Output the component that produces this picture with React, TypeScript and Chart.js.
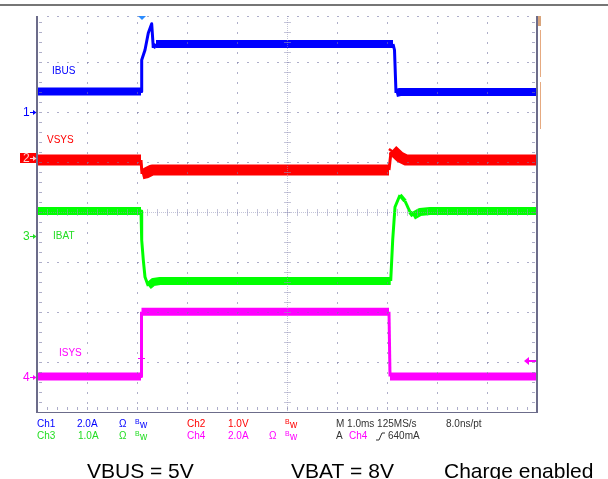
import React, { useEffect, useRef } from "react";
import { Chart, registerables } from "chart.js";

Chart.register(...registerables);

// ---- Scope settings ----
const channelNames = ["IBUS", "VSYS", "IBAT", "ISYS"];
const channelScale = [2.0, 1.0, 1.0, 2.0]; // units per division
const channelOffsetDiv = [1.99, 1.09, -0.48, -3.29]; // ground marker, divisions from centre
const triggerTimeMs = 2.08;
const triggerLevelA = 0.64;

// ---- Waveforms (time in ms from left edge of screen, 1.0 ms/div) ----
const ibusTime = [0, 2.08, 2.094, 2.16, 2.226, 2.294, 2.326, 2.38, 7.12, 7.15, 7.18, 7.26, 10];
const ibusAmps = [0.84, 0.84, 2.1, 2.5, 3.18, 3.55, 2.58, 2.74, 2.74, 2.5, 0.78, 0.82, 0.82];

const vsysTime = [0, 2.08, 2.1, 2.18, 2.3, 7.04, 7.08, 7.11, 7.26, 7.38, 10];
const vsysVolts = [-0.05, -0.05, -0.33, -0.31, -0.25, -0.25, 0.11, 0.15, 0.01, -0.05, -0.05];

const ibatTime = [0, 2.08, 2.094, 2.126, 2.16, 2.226, 2.326, 2.46, 7.074, 7.114, 7.16, 7.26, 7.36, 7.46, 7.52, 7.66, 7.86, 10];
const ibatAmps = [0.5, 0.5, -0.08, -0.48, -0.82, -1.0, -0.92, -0.9, -0.9, -0.08, 0.58, 0.82, 0.7, 0.48, 0.4, 0.48, 0.5, 0.5];

const isysTime = [0, 2.08, 2.09, 7.04, 7.06, 10];
const isysAmps = [0, 0, 2.59, 2.59, 0, 0];

const FONT = '"Liberation Sans", Arial, sans-serif';
const BLUE = "#0000ff";
const RED = "#ff0000";
const GREEN = "#00ff00";
const MAGENTA = "#ff00ff";
const TEXT_GREEN = "#22dd22";

function toDiv(ch: number, v: number) {
  return channelOffsetDiv[ch] + v / channelScale[ch];
}

function series(ch: number, t: number[], v: number[]) {
  return t.map((x, i) => ({ x, y: toDiv(ch, v[i]) }));
}

function bandSegment(band: number) {
  return (ctx: any) => {
    const dx = Math.abs(ctx.p1.x - ctx.p0.x);
    const dy = Math.abs(ctx.p1.y - ctx.p0.y);
    if (dy > 1.5 * dx) return 3;
    if (dy > dx) return Math.max(4, band - 4);
    return band;
  };
}

function drawBw(ctx: CanvasRenderingContext2D, x: number, y: number, color: string) {
  ctx.fillStyle = color;
  ctx.textAlign = "left";
  ctx.textBaseline = "middle";
  ctx.font = `7px ${FONT}`;
  ctx.fillText("B", x, y - 2);
  ctx.font = `10px ${FONT}`;
  ctx.fillText("w", x + 5, y + 1);
}

function drawGndMarker(ctx: CanvasRenderingContext2D, label: string, y: number, color: string, boxed: boolean) {
  const yy = Math.round(y) + 0.5;
  if (boxed) {
    ctx.fillStyle = color;
    ctx.fillRect(20, yy - 5.5, 16, 10);
  }
  const fg = boxed ? "#ffd0d0" : color;
  ctx.fillStyle = fg;
  ctx.strokeStyle = fg;
  ctx.font = `12px ${FONT}`;
  ctx.textAlign = "left";
  ctx.textBaseline = "middle";
  ctx.fillText(label, 23, yy + 0.5);
  ctx.lineWidth = 1;
  ctx.beginPath();
  ctx.moveTo(30, yy);
  ctx.lineTo(34, yy);
  ctx.stroke();
  ctx.beginPath();
  ctx.moveTo(36.5, yy);
  ctx.lineTo(33, yy - 2.5);
  ctx.lineTo(33, yy + 2.5);
  ctx.closePath();
  ctx.fill();
}

const scopePlugin = {
  id: "scopeDecor",
  afterDatasetsDraw(chart: any) {
    const ctx: CanvasRenderingContext2D = chart.ctx;
    const xs = chart.scales.x;
    const ys = chart.scales.y;
    const L = Math.round(xs.getPixelForValue(0));
    const R = Math.round(xs.getPixelForValue(10));
    const B = Math.round(ys.getPixelForValue(-4));
    const T0 = Math.round(ys.getPixelForValue(4));
    const T = T0 + 4; // visible top of screen
    const CX = Math.round(xs.getPixelForValue(5));
    const CY = Math.round(ys.getPixelForValue(0));
    ctx.save();

    // top separator
    ctx.fillStyle = "#767676";
    ctx.fillRect(0, 4, 608, 2);

    // grid dots
    ctx.fillStyle = "rgba(120,120,165,0.6)";
    for (let d = 1; d < 8; d++) {
      const y = Math.round(ys.getPixelForValue(4 - d));
      if (y === CY) continue;
      for (let x = L + 10; x < R; x += 10) ctx.fillRect(x, y, 2, 1);
    }
    for (let x = L + 10; x < R; x += 10) ctx.fillRect(x, T, 2, 1);
    for (let d = 1; d < 10; d++) {
      const x = Math.round(xs.getPixelForValue(d));
      if (x === CX) continue;
      for (let y = T0 + 10; y < B; y += 10) ctx.fillRect(x, y, 1, 2);
    }
    // centre lines
    ctx.fillStyle = "rgba(150,150,185,0.55)";
    for (let y = T; y < B; y += 2) ctx.fillRect(CX, y, 1, 1);
    for (let x = L; x < R; x += 2) ctx.fillRect(x, CY, 1, 1);
    for (let y = T0 + 10; y < B; y += 10) ctx.fillRect(CX - 3, y, 7, 1);
    for (let x = L + 10; x < R; x += 10) ctx.fillRect(x, CY - 3, 1, 7);
    // edge ticks
    ctx.fillStyle = "rgba(120,120,165,0.6)";
    for (let y = T0 + 10; y < B; y += 10) {
      ctx.fillRect(L + 2, y, 3, 1);
      ctx.fillRect(R - 5, y, 3, 1);
    }
    for (let x = L + 10; x < R; x += 10) ctx.fillRect(x, B - 5, 1, 3);

    // borders
    ctx.fillStyle = "#6c6c8a";
    ctx.fillRect(L - 1, T, 2, B - T + 1);
    ctx.fillRect(R - 1, T, 2, B - T + 1);
    ctx.fillRect(L - 1, B, R - L + 2, 1);

    // right offset bar
    ctx.fillStyle = "#d9a57c";
    ctx.fillRect(R + 1, T, 3, 10);
    ctx.fillStyle = "#e6aa80";
    ctx.fillRect(R + 3, T + 14, 1, 47);
    ctx.fillRect(R + 3, T + 66, 1, 47);

    // trigger position marker
    const tx = xs.getPixelForValue(triggerTimeMs) + 1;
    ctx.fillStyle = "#2a8cff";
    ctx.beginPath();
    ctx.moveTo(tx - 4, T);
    ctx.lineTo(tx + 4, T);
    ctx.lineTo(tx, T + 4);
    ctx.closePath();
    ctx.fill();

    // trigger level marks
    const ty = Math.round(ys.getPixelForValue(toDiv(3, triggerLevelA)));
    ctx.fillStyle = MAGENTA;
    ctx.fillRect(Math.round(tx) - 4, ty - 3, 7, 1);
    ctx.fillRect(R - 9, ty - 1, 8, 2);
    ctx.beginPath();
    ctx.moveTo(R - 13, ty);
    ctx.lineTo(R - 8, ty - 4);
    ctx.lineTo(R - 8, ty + 4);
    ctx.closePath();
    ctx.fill();

    // ground markers
    drawGndMarker(ctx, "1", ys.getPixelForValue(channelOffsetDiv[0]), BLUE, false);
    drawGndMarker(ctx, "2", ys.getPixelForValue(channelOffsetDiv[1]), RED, true);
    drawGndMarker(ctx, "3", ys.getPixelForValue(channelOffsetDiv[2]), TEXT_GREEN, false);
    drawGndMarker(ctx, "4", ys.getPixelForValue(channelOffsetDiv[3]), MAGENTA, false);

    // trace labels
    ctx.font = `10px ${FONT}`;
    ctx.textAlign = "left";
    ctx.textBaseline = "middle";
    ctx.fillStyle = BLUE;
    ctx.fillText(channelNames[0], 52, 71);
    ctx.fillStyle = RED;
    ctx.fillText(channelNames[1], 47, 140);
    ctx.fillStyle = TEXT_GREEN;
    ctx.fillText(channelNames[2], 53, 236);
    ctx.fillStyle = MAGENTA;
    ctx.fillText(channelNames[3], 59, 353);

    // readout rows
    const r1 = 424;
    const r2 = 436;
    ctx.font = `10px ${FONT}`;
    ctx.fillStyle = BLUE;
    ctx.fillText("Ch1", 37, r1);
    ctx.fillText("2.0A", 77, r1);
    ctx.fillText("Ω", 119, r1);
    drawBw(ctx, 135, r1, BLUE);
    ctx.font = `10px ${FONT}`;
    ctx.fillStyle = RED;
    ctx.fillText("Ch2", 187, r1);
    ctx.fillText("1.0V", 228, r1);
    drawBw(ctx, 285, r1, RED);

    ctx.font = `10px ${FONT}`;
    ctx.fillStyle = TEXT_GREEN;
    ctx.fillText("Ch3", 37, r2);
    ctx.fillText("1.0A", 78, r2);
    ctx.fillText("Ω", 119, r2);
    drawBw(ctx, 135, r2, TEXT_GREEN);
    ctx.font = `10px ${FONT}`;
    ctx.fillStyle = MAGENTA;
    ctx.fillText("Ch4", 187, r2);
    ctx.fillText("2.0A", 228, r2);
    ctx.fillText("Ω", 269, r2);
    drawBw(ctx, 285, r2, MAGENTA);

    ctx.font = `10px ${FONT}`;
    ctx.fillStyle = "#333333";
    ctx.fillText("M 1.0ms 125MS/s", 336, r1);
    ctx.fillText("8.0ns/pt", 446, r1);
    ctx.fillText("A", 336, r2);
    ctx.fillStyle = MAGENTA;
    ctx.fillText("Ch4", 349, r2);
    ctx.fillStyle = "#333333";
    ctx.fillText("640mA", 388, r2);
    ctx.strokeStyle = "#333333";
    ctx.lineWidth = 1;
    ctx.beginPath();
    ctx.moveTo(376, r2 + 4);
    ctx.lineTo(379, r2 + 4);
    ctx.lineTo(382, r2 - 3);
    ctx.lineTo(385, r2 - 3);
    ctx.stroke();

    // captions
    ctx.font = `21px ${FONT}`;
    ctx.fillStyle = "#000000";
    ctx.textBaseline = "alphabetic";
    ctx.fillText("VBUS = 5V", 87, 478);
    ctx.fillText("VBAT = 8V", 291, 478);
    ctx.fillText("Charge enabled", 444, 478);

    ctx.restore();
  },
};

export default function App() {
  const ref = useRef<HTMLCanvasElement>(null);

  useEffect(() => {
    document.body.style.margin = "0";
    if (!ref.current) return;
    const chart = new Chart(ref.current, {
      type: "line",
      data: {
        datasets: [
          {
            label: channelNames[0],
            data: series(0, ibusTime, ibusAmps),
            borderColor: BLUE,
            borderWidth: 8,
            segment: { borderWidth: bandSegment(8) },
          },
          {
            label: channelNames[1],
            data: series(1, vsysTime, vsysVolts),
            borderColor: RED,
            borderWidth: 11,
            segment: { borderWidth: bandSegment(11) },
          },
          {
            label: channelNames[2],
            data: series(2, ibatTime, ibatAmps),
            borderColor: GREEN,
            borderWidth: 8,
            segment: { borderWidth: bandSegment(8) },
          },
          {
            label: channelNames[3],
            data: series(3, isysTime, isysAmps),
            borderColor: MAGENTA,
            borderWidth: 8,
            segment: { borderWidth: bandSegment(8) },
          },
        ] as any,
      },
      options: {
        animation: false,
        responsive: false,
        devicePixelRatio: 1,
        layout: { padding: { left: 37, right: 71, top: 12, bottom: 67 } },
        elements: {
          point: { radius: 0 },
          line: { tension: 0, borderCapStyle: "butt", borderJoinStyle: "round" },
        },
        plugins: { legend: { display: false }, tooltip: { enabled: false } },
        scales: {
          x: { type: "linear", min: 0, max: 10, display: false },
          y: { type: "linear", min: -4, max: 4, display: false },
        },
      },
      plugins: [scopePlugin],
    });
    return () => chart.destroy();
  }, []);

  return (
    <div style={{ position: "absolute", left: 0, top: 0, width: 608, height: 479, background: "#fff" }}>
      <canvas ref={ref} width={608} height={479} />
    </div>
  );
}
